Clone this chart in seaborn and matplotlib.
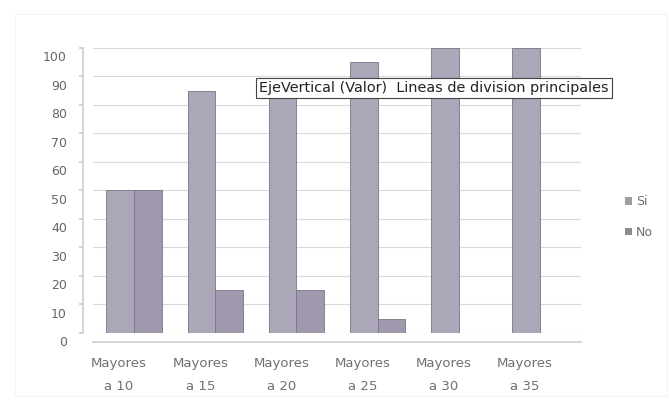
import matplotlib
matplotlib.use("Agg")
import matplotlib.pyplot as plt
import matplotlib.transforms as mtransforms
from matplotlib.patches import Patch, Rectangle
import seaborn as sns
import pandas as pd

categories = ["Mayores\na 10", "Mayores\na 15", "Mayores\na 20",
              "Mayores\na 25", "Mayores\na 30", "Mayores\na 35"]
si_values = [50, 85, 85, 95, 100, 100]
no_values = [50, 15, 15, 5, 0, 0]
series_names = ["Si", "No"]
y_ticks = list(range(0, 101, 10))

df = pd.DataFrame({
    "categoria": categories * 2,
    "serie": [series_names[0]] * len(categories) + [series_names[1]] * len(categories),
    "valor": si_values + no_values,
})

sns.set_theme(style="white")
plt.rcParams["font.family"] = ["DejaVu Sans"]

fig = plt.figure(figsize=(6.72, 4.08), dpi=100)
ax = fig.add_axes([0.139, 0.184, 0.725, 0.6985])

palette = {"Si": "#aba7b9", "No": "#a098ad"}
sns.barplot(data=df, x="categoria", y="valor", hue="serie", palette=palette,
            width=0.68, edgecolor="#7a7586", linewidth=0.6, ax=ax, legend=False,
            saturation=1)

ax.set_ylim(0, 100)
ax.set_xlim(-0.5, 5.5)
ax.set_yticks(y_ticks)
ax.set_yticklabels([str(t) for t in y_ticks])
ax.yaxis.grid(True, color="#dadada", linewidth=0.8)
ax.set_axisbelow(True)
ax.set_xlabel("")
ax.set_ylabel("")
for s in ["top", "right"]:
    ax.spines[s].set_visible(False)
ax.spines["left"].set_position(("outward", 7.5))
ax.spines["bottom"].set_position(("outward", 6.5))
ax.spines["left"].set_color("#d0d0d0")
ax.spines["bottom"].set_color("#d0d0d0")
ax.tick_params(axis="y", labelsize=9, colors="#666666", left=True, length=3,
               color="#cccccc", pad=8.5)
ax.tick_params(axis="x", labelsize=9.5, colors="#707070", pad=11, length=0)

# Labels sit slightly off the bar grid, as in a perspective view
dy = mtransforms.ScaledTranslation(0, -6 / 72, fig.dpi_scale_trans)
for lbl in ax.get_yticklabels():
    lbl.set_transform(lbl.get_transform() + dy)
dx = mtransforms.ScaledTranslation(-10.8 / 72, 0, fig.dpi_scale_trans)
for lbl in ax.get_xticklabels():
    lbl.set_linespacing(1.95)
    lbl.set_transform(lbl.get_transform() + dx)

# Legend on the right side
handles = [Patch(facecolor=c, edgecolor="none") for c in ["#9e9e9e", "#8c8c8c"]]
fig.legend(handles, series_names, loc="center left",
           bbox_to_anchor=(0.914, 0.468), frameon=False, fontsize=9,
           handlelength=0.55, handleheight=0.55, handletextpad=0.3,
           labelspacing=1.4, labelcolor="#707070")

# Hover tooltip for the major gridlines
fig.text(0.386, 1 - 88 / 408, "EjeVertical (Valor)  Lineas de division principales",
         fontsize=10.4, color="#222222", ha="left", va="center",
         bbox=dict(boxstyle="square,pad=0.22", facecolor="white",
                   edgecolor="#444444", linewidth=0.8))

# Faint chart-area frame
fig.patches.append(Rectangle((0.022, 0.03), 0.97, 0.935, transform=fig.transFigure,
                             fill=False, edgecolor="#f3f3f3", linewidth=0.8))

fig.savefig("out.png", dpi=100)
